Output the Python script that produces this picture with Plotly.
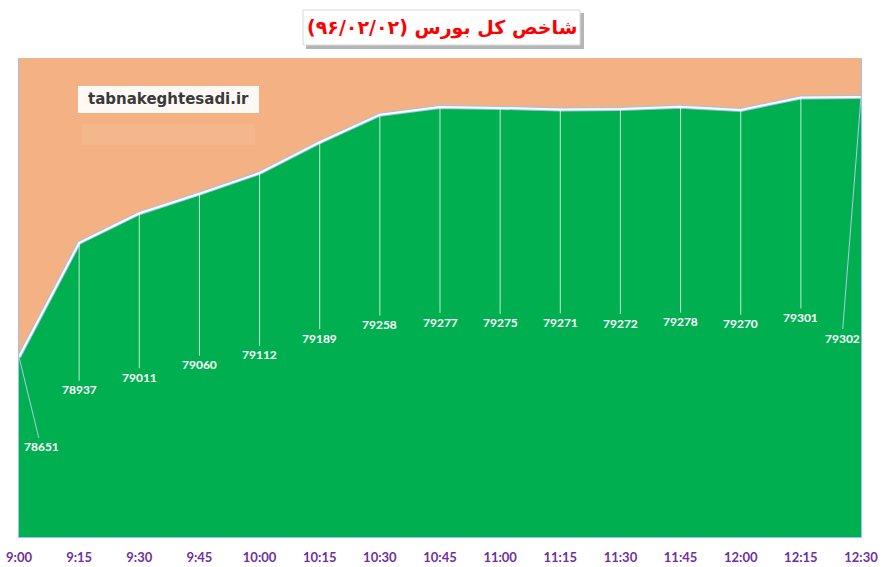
import plotly.graph_objects as go

# intraday values of the index (96/02/02)
times = ["9:00", "9:15", "9:30", "9:45", "10:00", "10:15", "10:30", "10:45",
         "11:00", "11:15", "11:30", "11:45", "12:00", "12:15", "12:30"]
index_values = [78651, 78937, 79011, 79060, 79112, 79189, 79258, 79277,
                79275, 79271, 79272, 79278, 79270, 79301, 79302]

# label offsets in pixels (leader lines)
label_dx = [22, 0, 0, 0, 0, 0, 0, 0, 0, 0, 0, 0, 0, 0, -19]
label_dy = [90, 147, 164, 171, 182, 196, 210, 215, 215, 213, 214, 215, 214, 220, 241]

title_text = "شاخص کل بورس (۹۶/۰۲/۰۲)"
site_text = "tabnakeghtesadi.ir"

W, H = 884, 567
L, T = 19, 58
pw, ph = 842, 479
R, B = W - L - pw, H - T - ph


def px(x):
    return (x - L) / pw


def py(y):
    return (T + ph - y) / ph


fig = go.Figure()

# green area with light blue edge
fig.add_trace(go.Scatter(
    x=times, y=index_values, mode="lines",
    line=dict(color="#9DC3E6", width=4),
    fill="tozeroy", fillcolor="#00B050",
    hoverinfo="skip"
))
# white line on top
fig.add_trace(go.Scatter(
    x=times, y=index_values, mode="lines",
    line=dict(color="white", width=2),
    hoverinfo="skip"
))

annotations = []
for t, v, dx, dy in zip(times, index_values, label_dx, label_dy):
    annotations.append(dict(
        x=t, y=v, xref="x", yref="y",
        text="<b>%d</b>" % v,
        showarrow=True, arrowhead=0, arrowwidth=1,
        arrowcolor="#B4C7E7" if dx != 0 else "rgba(255,255,255,0.75)",
        ax=dx, ay=dy, standoff=0,
        font=dict(family="Lato, Liberation Sans", size=12, color="white"),
    ))

# title box text
annotations.append(dict(
    x=px(442), y=py(27), xref="paper", yref="paper",
    text="<b>" + title_text + "</b>", showarrow=False,
    font=dict(family="DejaVu Sans", size=19, color="#FF0000"),
    xanchor="center", yanchor="middle"
))
# watermark
annotations.append(dict(
    x=px(168), y=py(99), xref="paper", yref="paper",
    text="<b>" + site_text + "</b>", showarrow=False,
    font=dict(family="DejaVu Sans", size=15, color="#3A3A3A"),
    xanchor="center", yanchor="middle"
))

shapes = [
    # title shadow
    dict(type="rect", xref="paper", yref="paper",
         x0=px(306), x1=px(584), y0=py(49), y1=py(13),
         fillcolor="rgba(90,90,90,0.45)", line=dict(width=0), layer="above"),
    # title box
    dict(type="rect", xref="paper", yref="paper",
         x0=px(303), x1=px(580), y0=py(45), y1=py(10),
         fillcolor="white", line=dict(color="#D9D9D9", width=1), layer="above"),
    # watermark box
    dict(type="rect", xref="paper", yref="paper",
         x0=px(78), x1=px(259), y0=py(113), y1=py(86),
         fillcolor="rgba(255,255,255,0.92)", line=dict(width=0), layer="below"),
    # faded reflection
    dict(type="rect", xref="paper", yref="paper",
         x0=px(82), x1=px(255), y0=py(145), y1=py(124),
         fillcolor="rgba(255,255,255,0.08)", line=dict(width=0), layer="below"),
]

fig.update_layout(
    width=W, height=H,
    margin=dict(l=L, r=R, t=T, b=B, autoexpand=False),
    paper_bgcolor="white",
    plot_bgcolor="#F4B183",
    showlegend=False,
    annotations=annotations,
    shapes=shapes,
)
fig.update_xaxes(
    type="category", range=[0, len(times) - 1], automargin=False,
    showgrid=False, zeroline=False,
    showline=True, linecolor="#9DC3E6", linewidth=1,
    ticks="", ticklabelstandoff=8,
    tickfont=dict(family="Lato, Liberation Sans", size=13, color="#7030A0", weight="bold"),
)
fig.update_yaxes(
    range=[78200, 79400], automargin=False,
    showgrid=False, zeroline=False, showticklabels=False,
    showline=True, mirror=True, linecolor="#9DC3E6", linewidth=1,
)

# drop the default page margin so the figure fills the window
fig.write_html("out.html", config={"displayModeBar": False},
               post_script="document.body.style.margin='0';")
